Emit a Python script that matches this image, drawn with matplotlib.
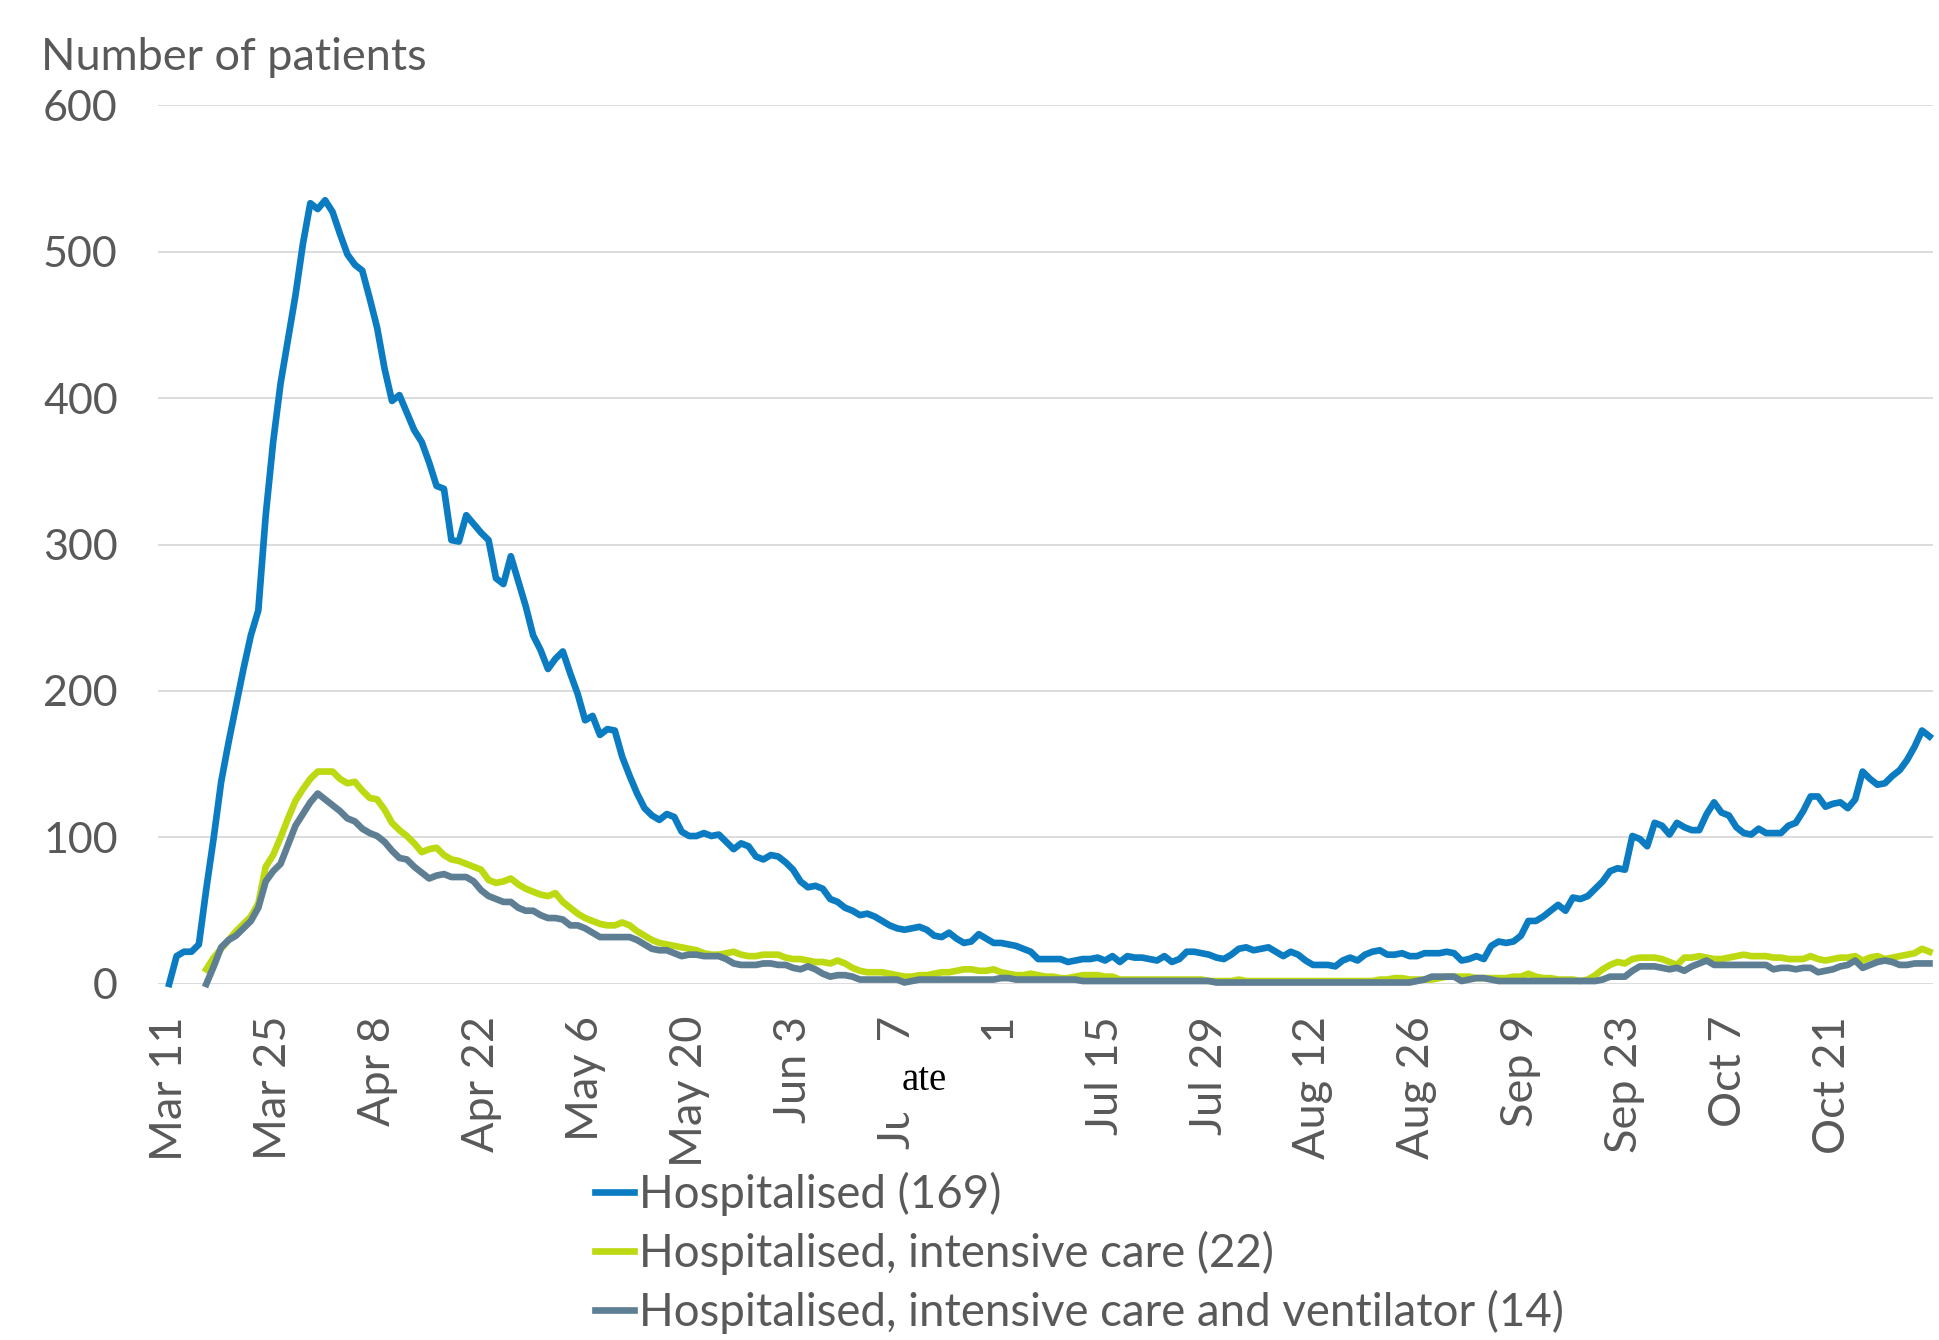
import numpy as np
import pandas as pd
import matplotlib
matplotlib.use('Agg')
import matplotlib.pyplot as plt
from matplotlib.patches import Rectangle

# Daily patient counts, 2020-03-11 .. 2020-11-03
hospitalised = [
    0, 19, 22, 22, 27, 65, 100, 138, 165, 190,
    215, 238, 255, 320, 370, 410, 440, 470, 505, 533,
    529, 535, 527, 512, 498, 491, 487, 468, 448, 420,
    398, 402, 390, 378, 370, 356, 340, 338, 303, 302,
    320, 314, 308, 303, 277, 273, 292, 275, 258, 238,
    228, 215, 222, 227, 212, 198, 180, 183, 170, 174,
    173, 155, 142, 130, 120, 115, 112, 116, 114, 104,
    101, 101, 103, 101, 102, 97, 92, 96, 94, 87,
    85, 88, 87, 83, 78, 70, 66, 67, 65, 58,
    56, 52, 50, 47, 48, 46, 43, 40, 38, 37,
    38, 39, 37, 33, 32, 35, 31, 28, 29, 34,
    31, 28, 28, 27, 26, 24, 22, 17, 17, 17,
    17, 15, 16, 17, 17, 18, 16, 19, 15, 19,
    18, 18, 17, 16, 19, 15, 17, 22, 22, 21,
    20, 18, 17, 20, 24, 25, 23, 24, 25, 22,
    19, 22, 20, 16, 13, 13, 13, 12, 16, 18,
    16, 20, 22, 23, 20, 20, 21, 19, 19, 21,
    21, 21, 22, 21, 16, 17, 19, 17, 26, 29,
    28, 29, 33, 43, 43, 46, 50, 54, 50, 59,
    58, 60, 65, 70, 77, 79, 78, 101, 99, 94,
    110, 108, 102, 110, 107, 105, 105, 116, 124, 117,
    115, 107, 103, 102, 106, 103, 103, 103, 108, 110,
    118, 128, 128, 121, 123, 124, 120, 126, 145, 140,
    136, 137, 142, 146, 153, 162, 173, 169,
]

# Intensive care series start on 2020-03-16
intensive_care = [
    10, 18, 24, 30, 36, 41, 46, 55, 80, 88,
    100, 113, 125, 133, 140, 145, 145, 145, 140, 137,
    138, 132, 127, 126, 119, 110, 105, 101, 96, 90,
    92, 93, 88, 85, 84, 82, 80, 78, 71, 69,
    70, 72, 68, 65, 63, 61, 60, 62, 56, 52,
    48, 45, 43, 41, 40, 40, 42, 40, 36, 33,
    30, 28, 27, 26, 25, 24, 23, 21, 20, 20,
    21, 22, 20, 19, 19, 20, 20, 20, 18, 17,
    17, 16, 15, 15, 14, 16, 14, 11, 9, 8,
    8, 8, 7, 6, 5, 5, 6, 6, 7, 8,
    8, 9, 10, 10, 9, 9, 10, 8, 7, 6,
    6, 7, 6, 5, 5, 4, 4, 5, 6, 6,
    6, 5, 5, 3, 3, 3, 3, 3, 3, 3,
    3, 3, 3, 3, 3, 2, 2, 2, 2, 3,
    2, 2, 2, 2, 2, 2, 2, 2, 2, 2,
    2, 2, 2, 2, 2, 2, 2, 2, 3, 3,
    4, 4, 3, 3, 3, 3, 4, 5, 5, 5,
    5, 4, 4, 4, 4, 4, 5, 5, 7, 5,
    4, 4, 3, 3, 3, 2, 3, 6, 10, 13,
    15, 14, 17, 18, 18, 18, 17, 15, 13, 18,
    18, 19, 18, 17, 17, 18, 19, 20, 19, 19,
    19, 18, 18, 17, 17, 17, 19, 17, 16, 17,
    18, 18, 19, 16, 18, 19, 17, 18, 19, 20,
    21, 24, 22,
]

ventilator = [
    0, 12, 25, 30, 33, 38, 43, 52, 70, 77,
    82, 95, 108, 116, 124, 130, 126, 122, 118, 113,
    111, 106, 103, 101, 97, 91, 86, 85, 80, 76,
    72, 74, 75, 73, 73, 73, 70, 64, 60, 58,
    56, 56, 52, 50, 50, 47, 45, 45, 44, 40,
    40, 38, 35, 32, 32, 32, 32, 32, 30, 27,
    24, 23, 23, 21, 19, 20, 20, 19, 19, 19,
    17, 14, 13, 13, 13, 14, 14, 13, 13, 11,
    10, 12, 10, 7, 5, 6, 6, 5, 3, 3,
    3, 3, 3, 3, 1, 2, 3, 3, 3, 3,
    3, 3, 3, 3, 3, 3, 3, 4, 4, 3,
    3, 3, 3, 3, 3, 3, 3, 3, 2, 2,
    2, 2, 2, 2, 2, 2, 2, 2, 2, 2,
    2, 2, 2, 2, 2, 2, 1, 1, 1, 1,
    1, 1, 1, 1, 1, 1, 1, 1, 1, 1,
    1, 1, 1, 1, 1, 1, 1, 1, 1, 1,
    1, 1, 1, 2, 3, 5, 5, 5, 5, 2,
    3, 4, 4, 3, 2, 2, 2, 2, 2, 2,
    2, 2, 2, 2, 2, 2, 2, 2, 3, 5,
    5, 5, 9, 12, 12, 12, 11, 10, 11, 9,
    12, 14, 16, 13, 13, 13, 13, 13, 13, 13,
    13, 10, 11, 11, 10, 11, 11, 8, 9, 10,
    12, 13, 16, 11, 13, 15, 16, 15, 13, 13,
    14, 14, 14,
]

tick_labels = ['Mar 11', 'Mar 25', 'Apr 8', 'Apr 22', 'May 6', 'May 20', 'Jun 3',
               'Jun 17', 'Jul 1', 'Jul 15', 'Jul 29', 'Aug 12', 'Aug 26', 'Sep 9',
               'Sep 23', 'Oct 7', 'Oct 21']
legend_labels = ['Hospitalised (169)',
                 'Hospitalised, intensive care (22)',
                 'Hospitalised, intensive care and ventilator (14)']
colors = ['#0B7CC1', '#BDD912', '#5D7E93']

dates = pd.date_range('2020-03-11', periods=len(hospitalised), freq='D')
icu_dates = pd.date_range('2020-03-16', periods=len(intensive_care), freq='D')

text_col = '#595959'
plt.rcParams['font.family'] = ['Lato', 'DejaVu Sans']

fig = plt.figure(figsize=(19.39, 13.40), dpi=100)
ax = fig.add_axes([0.0815, 0.2657, 0.9155, 0.6559])

lw = 4.8
l1, = ax.plot(dates, hospitalised, color=colors[0], lw=lw, clip_on=False, solid_joinstyle='round')
l2, = ax.plot(icu_dates, intensive_care, color=colors[1], lw=lw, clip_on=False, solid_joinstyle='round')
l3, = ax.plot(icu_dates, ventilator, color=colors[2], lw=lw, clip_on=False, solid_joinstyle='round')

ax.set_xlim(dates[0] - pd.Timedelta(hours=36), dates[-1] + pd.Timedelta(hours=12))
ax.set_ylim(0, 600)
ax.set_yticks(range(0, 601, 100))
ax.set_xticks(dates[::14][:len(tick_labels)])
ax.set_xticklabels(tick_labels, rotation=90)
ax.grid(axis='y', color='#D9D9D9', lw=1.3)
ax.set_axisbelow(True)
for s in ax.spines.values():
    s.set_visible(False)
ax.tick_params(axis='both', length=0, labelsize=31, colors=text_col)
ax.tick_params(axis='x', labelsize=32.5, pad=23)
ax.tick_params(axis='y', pad=29)

fig.text(0.021, 0.957, 'Number of patients', fontsize=32.5, color=text_col, va='center', ha='left')

leg = fig.legend([l1, l2, l3], legend_labels, loc='center left', bbox_to_anchor=(0.307, 0.065),
                 frameon=False, fontsize=32.9, handlelength=0.85, handletextpad=0.1,
                 labelspacing=0.32, borderpad=0, borderaxespad=0)
for t in leg.get_texts():
    t.set_color(text_col)

# patch over part of the tick labels with stray text, as in the source image
fig.add_artist(Rectangle((0.4435, 0.1694), 0.098, 0.0545, transform=fig.transFigure,
                         facecolor='white', edgecolor='none', zorder=5))
fig.text(0.4765, 0.1933, 'ate', fontsize=28, family='Liberation Serif', color='black',
         ha='center', va='center', zorder=6)

fig.savefig('out.png', dpi=100, facecolor='white')
